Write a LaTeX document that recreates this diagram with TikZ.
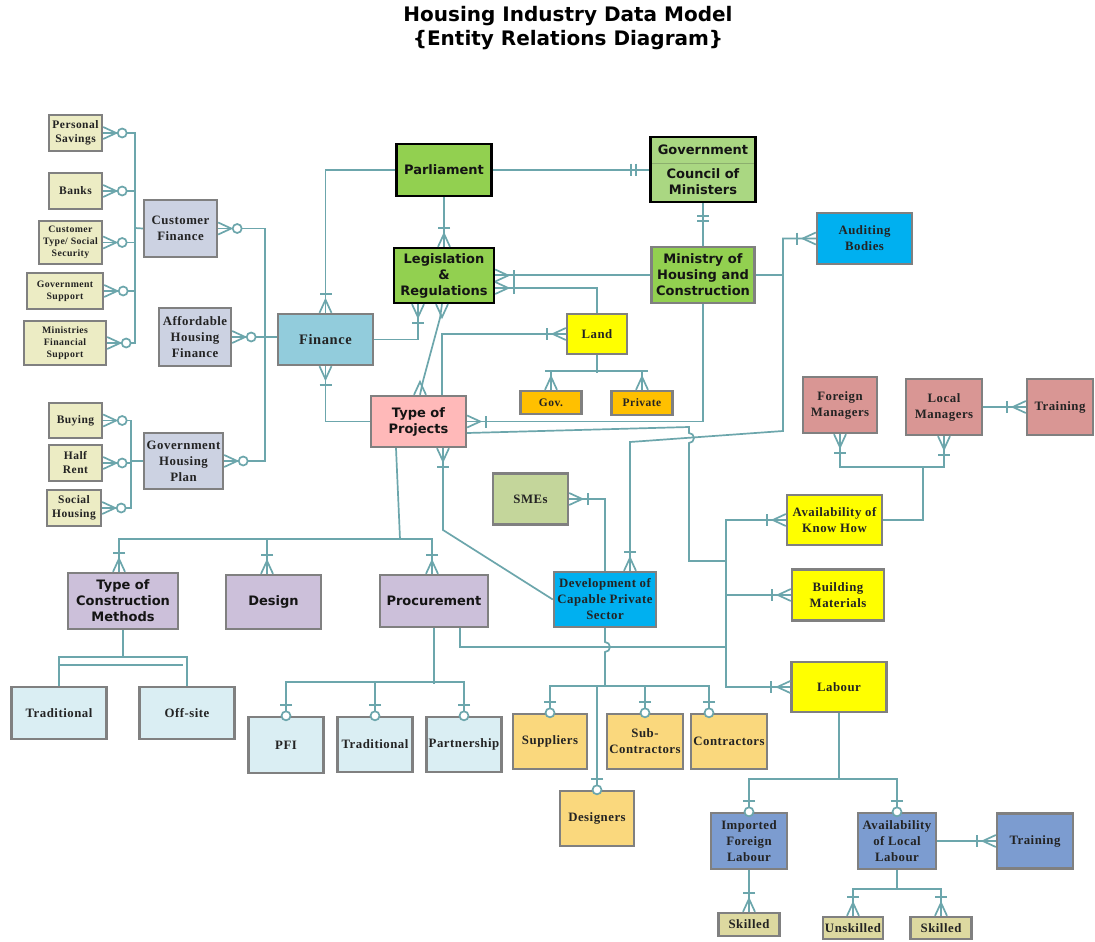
\documentclass[tikz,border=0pt]{standalone}
\usepackage{fontspec}
\usetikzlibrary{calc}
\newfontfamily\fSans{DejaVu Sans}
\newfontfamily\fSerif{Liberation Serif}[LetterSpace=4]
\definecolor{linec}{RGB}{108,166,172}
\definecolor{boxgray}{RGB}{128,128,128}
\definecolor{txtR}{RGB}{35,35,35}
\definecolor{txtS}{RGB}{20,20,20}
\definecolor{cLeft}{RGB}{236,236,196}
\definecolor{cCF}{RGB}{204,210,226}
\definecolor{cFin}{RGB}{146,204,220}
\definecolor{cGreen}{RGB}{146,208,80}
\definecolor{cGov}{RGB}{170,215,130}
\definecolor{cDiv}{RGB}{140,175,110}
\definecolor{cPink}{RGB}{255,185,185}
\definecolor{cYel}{RGB}{255,255,0}
\definecolor{cOra}{RGB}{255,192,0}
\definecolor{cCyan}{RGB}{0,176,240}
\definecolor{cRose}{RGB}{217,150,148}
\definecolor{cSme}{RGB}{196,214,155}
\definecolor{cLilac}{RGB}{204,192,218}
\definecolor{cPale}{RGB}{218,238,243}
\definecolor{cGold}{RGB}{250,216,125}
\definecolor{cBlue}{RGB}{124,156,208}
\definecolor{cKhaki}{RGB}{221,217,160}
\tikzset{
  conn/.style={draw=linec, line width=1.7pt},
  ebox/.style={draw=boxgray, line width=2.4pt, inner sep=1pt, align=center},
  kbox/.style={ebox, draw=black},
  sfont/.style={font=\fSans\bfseries\fontsize{13}{16}\selectfont, text=txtS, align=center},
  rfont/.style={font=\fSerif\bfseries\fontsize{12.8}{16}\selectfont, text=txtR},
  rfontm/.style={font=\fSerif\bfseries\fontsize{11.5}{14}\selectfont, text=txtR},
  rfonts/.style={font=\fSerif\bfseries\fontsize{9.8}{12.3}\selectfont, text=txtR},
  finfont/.style={font=\fSerif\bfseries\fontsize{14.5}{16}\selectfont, text=txtR},
  ttl/.style={font=\fSans\bfseries\fontsize{20}{22}\selectfont, text=black}
}
\newcommand\mkCrow[2]{\draw[conn] ($(#1)+(#2+90:6)$) -- ($(#1)+(#2:13)$) -- ($(#1)+(#2-90:6)$);}
\newcommand\mkBar[3]{\draw[conn] ($(#1)+(#2:#3)+(#2+90:6)$) -- ($(#1)+(#2:#3)+(#2-90:6)$);}
\newcommand\mkCirc[3]{\draw[conn,fill=white] ($(#1)+(#2:#3)$) circle[radius=4.5];}
\newcommand\mkOM[2]{\mkCrow{#1}{#2}\mkBar{#1}{#2}{19}}
\newcommand\mkZM[2]{\mkCrow{#1}{#2}\mkCirc{#1}{#2}{19}}
\newcommand\mkZO[2]{\mkBar{#1}{#2}{11}\mkCirc{#1}{#2}{0}}
\newcommand\mkOO[2]{\mkBar{#1}{#2}{13}\mkBar{#1}{#2}{18}}
\begin{document}
\begin{tikzpicture}[x=1pt,y=-1pt]
\useasboundingbox (0,0) rectangle (1095,942);
\fill[white] (0,0) rectangle (1095,942);
% title
\node[ttl] (t1) at (568,16) {Housing Industry Data Model};
\node[ttl] (t2) at (568,40) {\{Entity Relations Diagram\}};
% left cluster
\node[ebox,rfontm,fill=cLeft,minimum width=53,minimum height=36] (ps) at (75.5,133) {Personal\\Savings};
\node[ebox,rfontm,fill=cLeft,minimum width=53,minimum height=36] (banks) at (75.5,191) {Banks};
\node[ebox,rfonts,fill=cLeft,minimum width=63,minimum height=43] (ctss) at (70.5,242.5) {Customer\\Type/ Social\\Security};
\node[ebox,rfonts,fill=cLeft,minimum width=76,minimum height=36] (gs) at (65,291) {Government\\Support};
\node[ebox,rfonts,fill=cLeft,minimum width=82,minimum height=44] (mfs) at (65,343) {Ministries\\Financial\\Support};
\node[ebox,rfont,fill=cCF,minimum width=73,minimum height=57] (cf) at (180.5,228.5) {Customer\\Finance};
\node[ebox,rfont,fill=cCF,minimum width=72,minimum height=58] (ahf) at (195,337) {Affordable\\Housing\\Finance};
\node[ebox,rfontm,fill=cLeft,minimum width=53,minimum height=35] (buy) at (75.5,420.5) {Buying};
\node[ebox,rfontm,fill=cLeft,minimum width=53,minimum height=36] (hr) at (75.5,463) {Half\\Rent};
\node[ebox,rfontm,fill=cLeft,minimum width=54,minimum height=36] (sh) at (74,508) {Social\\Housing};
\node[ebox,rfont,fill=cCF,minimum width=79,minimum height=56] (ghp) at (183.5,461) {Government\\Housing\\Plan};
% centre
\node[ebox,finfont,fill=cFin,minimum width=95,minimum height=51] (fin) at (325.5,339.5) {Finance};
\node[kbox,sfont,fill=cGreen,minimum width=95,minimum height=52] (parl) at (444,170) {Parliament};
\node[kbox,fill=cGov,minimum width=105,minimum height=65] (gov) at (703,169.5) {};
\draw[draw=cDiv,line width=1pt] (652,163) -- (754,163);
\node[sfont] (govt) at (703,150) {Government};
\node[sfont] (govc) at (703,182) {Council of\\Ministers};
\node[kbox,sfont,fill=cGreen,minimum width=100,minimum height=55] (leg) at (444,275.5) {Legislation\\\&\\Regulations};
\node[ebox,sfont,fill=cGreen,minimum width=103,minimum height=56] (min) at (703,275) {Ministry of\\Housing and\\Construction};
\node[ebox,rfont,fill=cYel,minimum width=60,minimum height=40] (land) at (597,334) {Land};
\node[ebox,rfontm,fill=cOra,minimum width=61,minimum height=23] (lgov) at (551,402.5) {Gov.};
\node[ebox,rfontm,fill=cOra,minimum width=61,minimum height=24] (lpriv) at (642,403) {Private};
\node[ebox,sfont,fill=cPink,minimum width=95,minimum height=51] (top) at (418.5,421.5) {Type of\\Projects};
% right upper
\node[ebox,rfont,fill=cCyan,minimum width=95,minimum height=51] (aud) at (864.5,238.5) {Auditing\\Bodies};
\node[ebox,rfont,fill=cRose,minimum width=74,minimum height=56] (fm) at (840,405) {Foreign\\Managers};
\node[ebox,rfont,fill=cRose,minimum width=76,minimum height=56] (lm) at (944,407) {Local\\Managers};
\node[ebox,rfont,fill=cRose,minimum width=66,minimum height=56] (tr1) at (1060,407) {Training};
\node[ebox,rfont,fill=cYel,minimum width=95,minimum height=50] (akh) at (834.5,520) {Availability of\\Know How};
\node[ebox,rfont,fill=cYel,minimum width=92,minimum height=51] (bm) at (838,595) {Building\\Materials};
\node[ebox,rfont,fill=cYel,minimum width=95,minimum height=50] (lab) at (839,687) {Labour};
\node[ebox,rfont,fill=cSme,minimum width=75,minimum height=51] (sme) at (530.5,499) {SMEs};
\node[ebox,rfont,fill=cCyan,minimum width=102,minimum height=55] (dcps) at (605,599.5) {Development of\\Capable Private\\Sector};
% lower left
\node[ebox,sfont,fill=cLilac,minimum width=110,minimum height=56] (tcm) at (123,601) {Type of\\Construction\\Methods};
\node[ebox,sfont,fill=cLilac,minimum width=95,minimum height=54] (des) at (273.5,602) {Design};
\node[ebox,sfont,fill=cLilac,minimum width=108,minimum height=52] (proc) at (434,601) {Procurement};
\node[ebox,rfont,fill=cPale,minimum width=95,minimum height=52] (trad1) at (59,713) {Traditional};
\node[ebox,rfont,fill=cPale,minimum width=95,minimum height=52] (off) at (187,713) {Off-site};
\node[ebox,rfont,fill=cPale,minimum width=75,minimum height=56] (pfi) at (286,745) {PFI};
\node[ebox,rfont,fill=cPale,minimum width=75,minimum height=55] (trad2) at (375,744.5) {Traditional};
\node[ebox,rfont,fill=cPale,minimum width=75,minimum height=55] (part) at (464,744.5) {Partnership};
\node[ebox,rfont,fill=cGold,minimum width=74,minimum height=55] (sup) at (550,741.5) {Suppliers};
\node[ebox,rfont,fill=cGold,minimum width=76,minimum height=55] (sub) at (645,741.5) {Sub-\\Contractors};
\node[ebox,rfont,fill=cGold,minimum width=76,minimum height=55] (con) at (729,741.5) {Contractors};
\node[ebox,rfont,fill=cGold,minimum width=74,minimum height=55] (dsg) at (597,818.5) {Designers};
% lower right
\node[ebox,rfont,fill=cBlue,minimum width=76,minimum height=56] (ifl) at (749,841) {Imported\\Foreign\\Labour};
\node[ebox,rfont,fill=cBlue,minimum width=78,minimum height=56] (all) at (897,841) {Availability\\of Local\\Labour};
\node[ebox,rfont,fill=cBlue,minimum width=76,minimum height=55] (tr2) at (1035,841) {Training};
\node[ebox,rfont,fill=cKhaki,minimum width=61,minimum height=23] (sk1) at (749,924.5) {Skilled};
\node[ebox,rfont,fill=cKhaki,minimum width=60,minimum height=22] (unsk) at (853,928) {Unskilled};
\node[ebox,rfont,fill=cKhaki,minimum width=61,minimum height=22] (sk2) at (941,928) {Skilled};

% ---------- connectors ----------
\draw[conn] (ps.east) -| (135,228) -- (cf.west);
\draw[conn] (banks.east) -| (135,228);
\draw[conn] (ctss.east) -| (135,228);
\draw[conn] (gs.east) -| (135,228);
\draw[conn] (mfs.east) -| (135,228);
\draw[conn] (cf.east) -| (265,0 |- ghp.east) -- (ghp.east);
\draw[conn] (ahf.east) -- (ahf.east -| fin.west);
\draw[conn] (buy.east) -| (131,0 |- ghp.west) -- (ghp.west);
\draw[conn] (hr.east) -| (131,0 |- ghp.west);
\draw[conn] (sh.east) -| (131,0 |- ghp.west);

\draw[conn] (parl.west) -| (fin.north);
\draw[conn] (parl.south) -- (leg.north);
\draw[conn] (parl.east) -- (parl.east -| gov.west);
\draw[conn] (gov.south) -- (min.north);
\draw[conn] (min.west) -- (min.west -| leg.east);
\coordinate (legE2) at (leg.east |- 0,288);
\draw[conn] (land.north) |- (legE2);
\coordinate (legS1) at (leg.south -| 418,0);
\draw[conn] (fin.east) -| (legS1);
\coordinate (legS2) at (leg.south -| 442,0);
\coordinate (topN1) at (top.north -| 420,0);
\draw[conn] (topN1) -- (423,381) -- (440,318) -- (legS2);
\coordinate (topN2) at (top.north -| 442,0);
\draw[conn] (land.west) -| (topN2);
\draw[conn] (land.south) -- ++(0,18);
\draw[conn] (lgov.north) -- ++(0,-19) -| (lpriv.north);
\draw[conn] (fin.south) |- (top.west);
\draw[conn] (min.south) |- (top.east);
\coordinate (topE2) at (top.east |- 0,433);
\draw[conn] (topE2) -- (689,427) -- (689,433) arc[start angle=-90,end angle=90,radius=5] -- (689,561) -- (726,561);
\draw[conn] (min.east) -- (783,0 |- min.east);
\coordinate (dcpsN1) at (dcps.north -| 630,0);
\draw[conn] (aud.west) -- (783,0 |- aud.west) -- (783,431) -- (630,442) -- (dcpsN1);
\coordinate (topS2) at (top.south -| 443,0);
\draw[conn] (dcps.west) -- (443,530) -- (topS2);
\coordinate (dcpsN2) at (dcps.north -| 605,0);
\draw[conn] (sme.east) -| (dcpsN2);
\coordinate (topS1) at (top.south -| 396,0);
\draw[conn] (topS1) -- (400,539);
\coordinate (tcmN) at (tcm.north -| 119,0);
\coordinate (desN) at (des.north -| 267,0);
\coordinate (procN) at (proc.north -| 432,0);
\draw[conn] (tcmN) |- (432,539) -- (procN);
\draw[conn] (desN) -- (267,539);
\draw[conn] (tcm.south) -- (123,657);
\draw[conn] (trad1.north) |- (off.north |- 0,657) -- (off.north);
\draw[conn] (trad1.north |- 0,665) -- (183,665);
\draw[conn] (proc.south) -- (434,684);
\draw[conn] (pfi.north) |- (part.north |- 0,682) -- (part.north);
\draw[conn] (trad2.north) -- (trad2.north |- 0,682);
\coordinate (procS2) at (proc.south -| 460,0);
\draw[conn] (procS2) |- (726,647);
\draw[conn] (dcps.south) -- (605,642) arc[start angle=-90,end angle=90,radius=5] -- (605,686);
\coordinate (conN) at (con.north -| 709,0);
\draw[conn] (sup.north) |- (conN |- 0,686) -- (conN);
\draw[conn] (sub.north) -- (sub.north |- 0,686);
\draw[conn] (dsg.north) -- (dsg.north |- 0,686);
\draw[conn] (akh.west) -- (726,0 |- akh.west) -- (726,0 |- lab.west) -- (lab.west);
\draw[conn] (bm.west) -- (726,0 |- bm.west);
\draw[conn] (fm.south) |- (lm.south |- 0,467) -- (lm.south);
\draw[conn] (akh.east) -| (923,467);
\draw[conn] (lm.east) -- (lm.east -| tr1.west);
\draw[conn] (lab.south) -- (lab.south |- 0,779);
\draw[conn] (ifl.north) |- (all.north |- 0,779) -- (all.north);
\draw[conn] (all.east) -- (all.east -| tr2.west);
\draw[conn] (ifl.south) -- (sk1.north);
\draw[conn] (all.south) -- (all.south |- 0,889);
\draw[conn] (unsk.north) |- (sk2.north |- 0,889) -- (sk2.north);

% ---------- markers ----------
\mkZM{ps.east}{0} \mkZM{banks.east}{0} \mkZM{ctss.east}{0} \mkZM{gs.east}{0} \mkZM{mfs.east}{0}
\mkZM{cf.east}{0} \mkZM{ahf.east}{0} \mkZM{ghp.east}{0}
\mkZM{buy.east}{0} \mkZM{hr.east}{0} \mkZM{sh.east}{0}
\mkOM{fin.north}{270} \mkOM{leg.north}{270}
\mkOO{gov.west}{180} \mkOO{gov.south}{90}
\mkOM{leg.east}{0} \mkOM{legE2}{0}
\mkOM{legS1}{90} \mkCrow{legS2}{90} \mkCrow{topN1}{270}
\mkOM{land.west}{180} \mkOM{lgov.north}{270} \mkOM{lpriv.north}{270}
\mkOM{fin.south}{90} \mkOM{top.east}{0}
\mkOM{aud.west}{180} \mkOM{dcpsN1}{270} \mkOM{topS2}{90} \mkOM{sme.east}{0}
\mkOM{tcmN}{270} \mkOM{desN}{270} \mkOM{procN}{270}
\mkZO{pfi.north}{270} \mkZO{trad2.north}{270} \mkZO{part.north}{270}
\mkZO{sup.north}{270} \mkZO{sub.north}{270} \mkZO{conN}{270} \mkZO{dsg.north}{270}
\mkOM{akh.west}{180} \mkOM{bm.west}{180} \mkOM{lab.west}{180}
\mkOM{fm.south}{90} \mkOM{lm.south}{90} \mkOM{tr1.west}{180}
\mkZO{ifl.north}{270} \mkZO{all.north}{270} \mkOM{tr2.west}{180}
\mkOM{sk1.north}{270} \mkOM{unsk.north}{270} \mkOM{sk2.north}{270}
\end{tikzpicture}
\end{document}
